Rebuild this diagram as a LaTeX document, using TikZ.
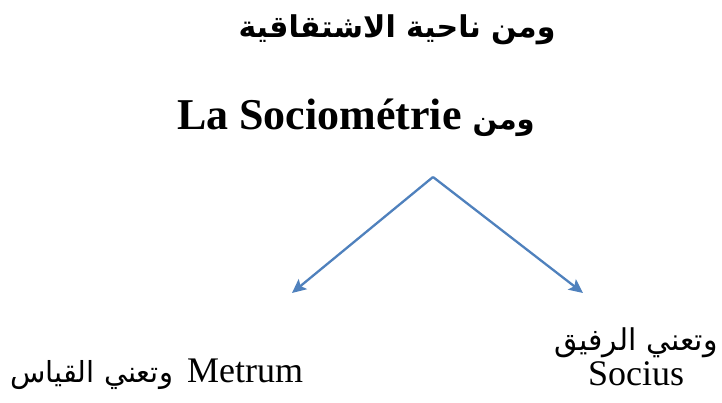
\documentclass[tikz,border=0pt]{standalone}
\usepackage{fontspec}
\setmainfont{Liberation Serif}
\newfontfamily\arabicfont[Script=Arabic]{DejaVu Sans}
\TeXXeTstate=1
\usetikzlibrary{arrows.meta}
\definecolor{arrowblue}{RGB}{79,129,189}
\tikzset{
  txt/.style={inner sep=0pt, outer sep=0pt, text=black},
  conn/.style={draw=arrowblue, line width=2.3pt, -{Stealth[length=14pt,width=13pt,inset=3pt]}}
}
\begin{document}
\begin{tikzpicture}[x=1pt,y=-1pt]
\useasboundingbox[fill=white] (0,0) rectangle (722,403);
\node[txt, anchor=base] (title) at (397,38)
  {\arabicfont\bfseries\fontsize{30}{34}\selectfont\beginR ومن ناحية الاشتقاقية\endR};
\node[txt, anchor=base west] (socio) at (177,130)
  {\fontsize{44}{50}\selectfont\bfseries La Sociométrie {\arabicfont\fontsize{29}{33}\selectfont\beginR ومن\endR}};
\coordinate (top) at (433,177);
\coordinate (lt) at (292,293);
\coordinate (rt) at (583,293);
\draw[conn] (top) -- (lt);
\draw[conn] (top) -- (rt);
\node[txt, anchor=base east] (metrum) at (303,382)
  {\fontsize{26}{30}\selectfont{\arabicfont\fontsize{29}{33}\selectfont\beginR وتعني القياس\endR}\hspace{14pt}\fontsize{36}{40}\selectfont Metrum};
\node[txt, anchor=base] (rafiq) at (636,350)
  {\arabicfont\fontsize{30}{34}\selectfont\beginR وتعني الرفيق\endR};
\node[txt, anchor=base] (socius) at (636,385)
  {\fontsize{36}{40}\selectfont Socius};
\end{tikzpicture}
\end{document}
